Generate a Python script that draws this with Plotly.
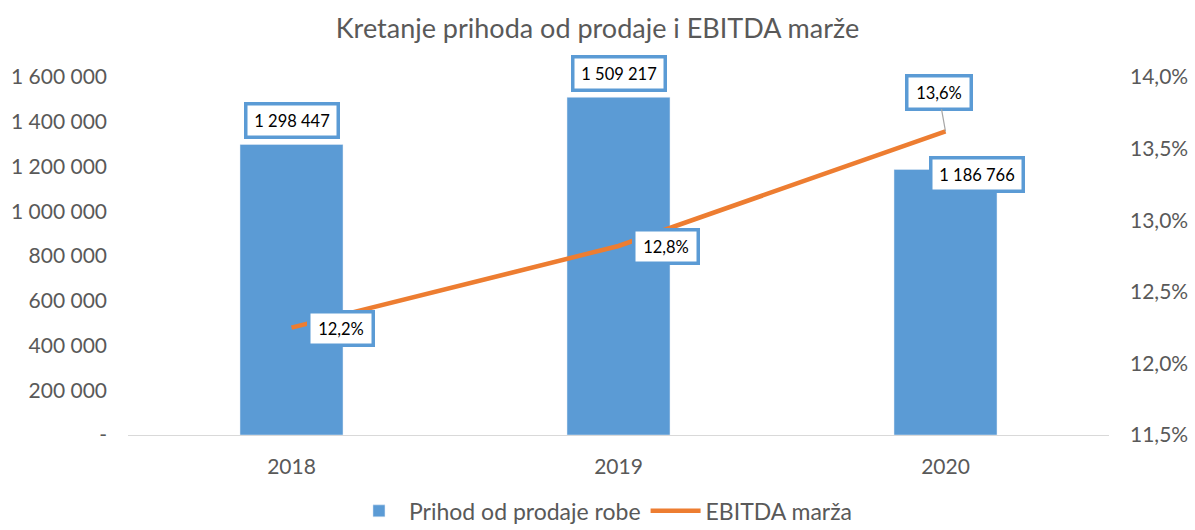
import plotly.graph_objects as go

years = ["2018", "2019", "2020"]
revenue = [1298447, 1509217, 1186766]
ebitda = [12.25, 12.82, 13.62]
rev_labels = ["1 298 447", "1 509 217", "1 186 766"]
ebitda_labels = ["12,2%", "12,8%", "13,6%"]
left_vals = [0, 200000, 400000, 600000, 800000, 1000000, 1200000, 1400000, 1600000]
left_text = ["-", "200 000", "400 000", "600 000", "800 000", "1 000 000", "1 200 000", "1 400 000", "1 600 000"]
right_vals = [11.5, 12.0, 12.5, 13.0, 13.5, 14.0]
right_text = ["11,5%", "12,0%", "12,5%", "13,0%", "13,5%", "14,0%"]

BLUE = "#5B9BD5"
ORANGE = "#ED7D31"
GRAY = "#595959"
FONT = "Lato"

xpos = list(range(len(years)))

fig = go.Figure()
fig.add_trace(go.Bar(x=xpos, y=revenue, name="Prihod od prodaje robe",
                     marker_color=BLUE, width=0.315, yaxis="y"))
fig.add_trace(go.Scatter(x=xpos, y=ebitda, name="EBITDA marža", mode="lines",
                         line=dict(color=ORANGE, width=4.5), yaxis="y2"))

ann_font = dict(family=FONT, size=16.5, color="black")
box = dict(bgcolor="white", bordercolor=BLUE, borderwidth=3.5, borderpad=4,
           font=ann_font, height=22, valign="middle")
rev_shift = [(0, 24), (0, 24), (31, -5)]
for i in range(3):
    fig.add_annotation(x=xpos[i], y=revenue[i], xref="x", yref="y", text=rev_labels[i],
                       showarrow=False, width=81,
                       xshift=rev_shift[i][0], yshift=rev_shift[i][1], **box)
fig.add_annotation(x=xpos[0], y=ebitda[0], xref="x", yref="y2", text=ebitda_labels[0],
                   showarrow=False, width=53, xshift=49, yshift=-1, **box)
fig.add_annotation(x=xpos[1], y=ebitda[1], xref="x", yref="y2", text=ebitda_labels[1],
                   showarrow=False, width=53, xshift=47, yshift=-1, **box)
fig.add_annotation(x=xpos[2], y=ebitda[2], xref="x", yref="y2", text=ebitda_labels[2],
                   showarrow=True, arrowhead=0, arrowwidth=1.2, arrowcolor="#A6A6A6",
                   standoff=0, ax=-7, ay=-39, width=53, **box)

fig.update_layout(
    width=1195, height=530,
    margin=dict(l=128, r=86, t=77, b=95),
    paper_bgcolor="white", plot_bgcolor="white",
    font=dict(family=FONT, size=21, color=GRAY),
    title=dict(text="Kretanje prihoda od prodaje i EBITDA marže", x=0.5, xanchor="center",
               y=0.947, yanchor="middle", font=dict(family=FONT, size=27, color=GRAY)),
    xaxis=dict(range=[-0.5, 2.5], tickvals=xpos, ticktext=years, showline=True,
               linecolor="#D9D9D9", linewidth=1, showgrid=False, zeroline=False,
               ticks="", tickfont=dict(size=21, color=GRAY), ticklabelstandoff=13,
               automargin=False),
    yaxis=dict(range=[0, 1600000], tickvals=left_vals, ticktext=left_text, showgrid=False,
               zeroline=False, showline=False, ticks="", ticklabelstandoff=20,
               tickfont=dict(size=21, color=GRAY), automargin=False),
    yaxis2=dict(range=[11.5, 14.0], tickvals=right_vals, ticktext=right_text, overlaying="y",
                side="right", showgrid=False, zeroline=False, showline=False, ticks="",
                ticklabelstandoff=20, tickfont=dict(size=21, color=GRAY), automargin=False),
    legend=dict(orientation="h", x=0.505, xanchor="center", xref="container",
                y=0.036, yanchor="middle", yref="container",
                font=dict(size=23, color=GRAY), traceorder="normal", itemwidth=50),
    showlegend=True,
)

fig.write_html("out.html", config={"displayModeBar": False},
               post_script="document.body.style.margin='0';")
